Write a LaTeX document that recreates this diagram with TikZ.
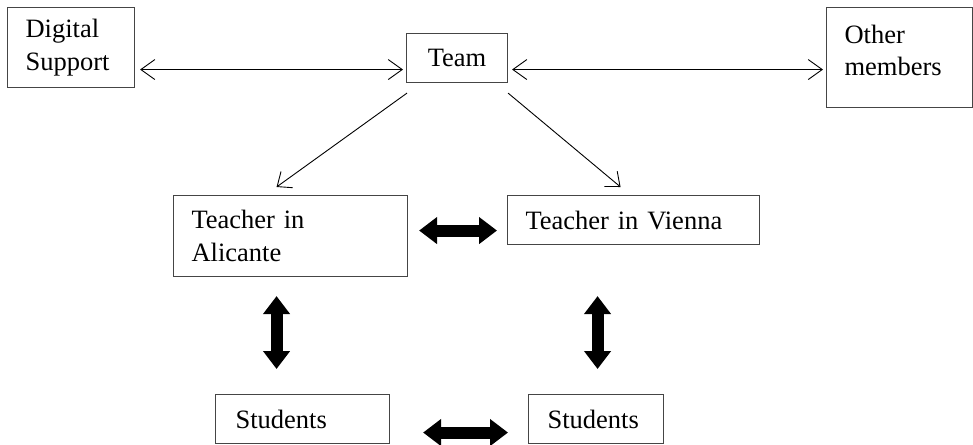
\documentclass[tikz,border=0pt]{standalone}
\usepackage{fontspec}
\setmainfont{Liberation Serif}
\usetikzlibrary{arrows.meta}
\definecolor{boxline}{HTML}{454545}
\tikzset{
  box/.style={draw=boxline, line width=1.1pt, anchor=north west, inner ysep=0pt,
    inner xsep=18pt, align=left, font=\fontsize{26.5}{32.5}\selectfont, text=black},
  thinarrow/.style={line width=0.9pt, arrows={Straight Barb[length=14pt,width=20pt]-Straight Barb[length=14pt,width=20pt]}},
  onearrow/.style={line width=0.9pt, arrows={-Straight Barb[length=12pt,width=20pt]}},
  thickarrow/.style={line width=12pt, arrows={Triangle[width=26pt,length=18pt]-Triangle[width=26pt,length=18pt]}}
}
\begin{document}
\begin{tikzpicture}[x=1pt,y=-1pt]
\useasboundingbox (0,0) rectangle (973,444);
\node[box, minimum width=127pt, minimum height=80pt, text width=91pt] (ds) at (7,7) {Digital\\Support};
\node[box, minimum width=101pt, minimum height=49pt, inner xsep=0pt, text width=101pt, align=center] (team) at (406,33) {Team};
\node[box, minimum width=146pt, minimum height=100pt, text width=110pt] (other) at (826,7) {Other\\members\\[-18pt]\mbox{}};
\node[box, minimum width=234pt, minimum height=81pt, text width=198pt] (ali) at (173,195) {Teacher in\\Alicante};
\node[box, minimum width=252pt, minimum height=49pt, text width=216pt] (vie) at (507,195) {Teacher in Vienna};
\node[box, minimum width=174pt, minimum height=49pt, inner xsep=20pt, text width=134pt] (stl) at (215,394) {Students};
\node[box, minimum width=135pt, minimum height=49pt, inner xsep=19pt, text width=97pt] (str) at (528,394) {Students};

\draw[thinarrow] ([xshift=5pt,yshift=-22pt]ds.east) -- ([xshift=-3pt,yshift=-11.5pt]team.west);
\draw[thinarrow] ([xshift=4pt,yshift=-11.5pt]team.east) -- ([xshift=-3pt,yshift=-12pt]other.west);
\draw[onearrow] ([xshift=1pt,yshift=-10pt]team.south west) -- ([xshift=-14pt,yshift=8pt]ali.north);
\draw[onearrow] ([yshift=-10pt]team.south east) -- ([xshift=-13pt,yshift=8pt]vie.north);

\draw[thickarrow] ([xshift=11pt,yshift=5.5pt]ali.east) -- ([xshift=-10pt,yshift=-10.5pt]vie.west);
\draw[thickarrow] ([xshift=-14pt,yshift=-19pt]ali.south) -- ([xshift=-26pt,yshift=25pt]stl.north);
\draw[thickarrow] ([xshift=-36pt,yshift=-51pt]vie.south) -- ([xshift=1.5pt,yshift=25pt]str.north);
\draw[thickarrow] ([xshift=33pt,yshift=-13.5pt]stl.east) -- ([xshift=-20pt,yshift=-13.5pt]str.west);
\end{tikzpicture}
\end{document}
